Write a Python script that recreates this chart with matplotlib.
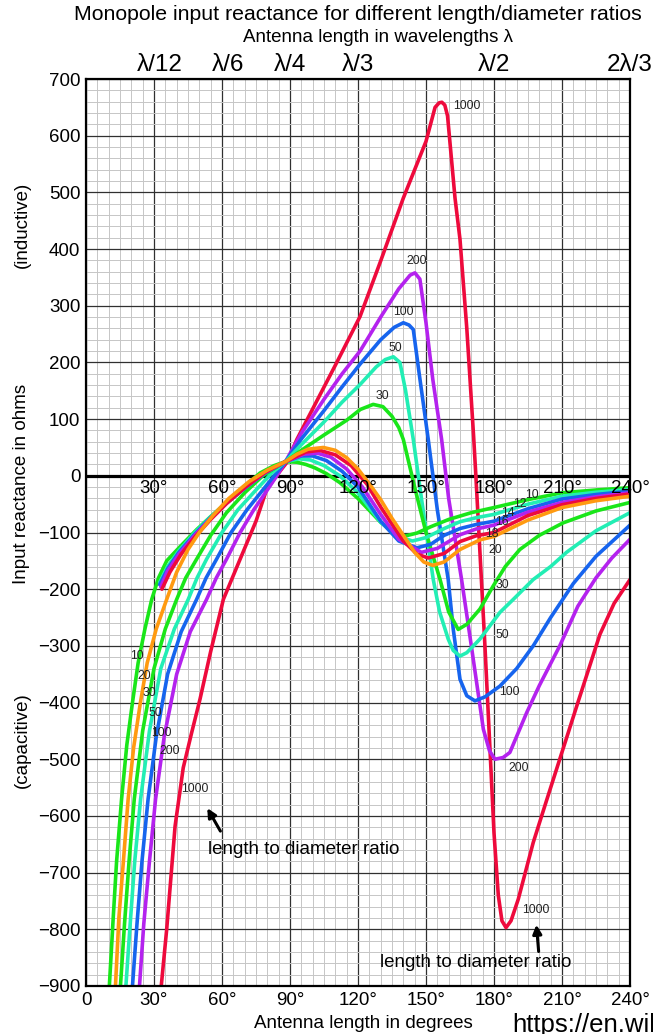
import matplotlib
matplotlib.use("Agg")
import matplotlib.pyplot as plt
from matplotlib.ticker import MultipleLocator

plt.rcParams['font.family'] = ['Liberation Sans', 'DejaVu Sans']

# antenna length in degrees / input reactance in ohms, one pair per l/d ratio
ld10_x = [10.3, 12, 13.5, 15.7, 18, 20.5, 23, 26, 29, 32, 35.6, 41.5, 48.8, 55, 60.6, 68, 76.8, 83, 88, 93, 97, 101,
          106, 112, 120, 130, 136, 141, 146, 152, 160, 170, 180, 195, 210, 225, 240]
ld10_y = [-900, -780, -680, -570, -475, -400, -330, -270, -218, -180, -150, -125, -95, -72, -52, -25, 5, 18, 25, 24,
          20, 14, 4, -12, -40, -82, -100, -106, -101, -90, -77, -65, -56, -42, -30, -25, -21]

ld12_x = [32.5, 36, 41, 48, 55, 62, 70, 79, 88, 94, 99, 105, 112, 120, 130, 137, 144, 150, 158, 165, 172, 180, 195,
          210, 225, 240]
ld12_y = [-188, -160, -132, -100, -72, -48, -22, 5, 25, 30, 28, 18, 0, -30, -82, -106, -115, -109, -93, -81, -74,
          -68, -50, -36, -29, -24]

ld14_x = [32.5, 36, 41, 48, 55, 62, 70, 79, 88, 95, 100, 106, 113, 120, 130, 138, 146, 152, 158, 165, 172, 180, 195,
          210, 225, 240]
ld14_y = [-192, -164, -135, -103, -74, -48, -22, 5, 25, 35, 35, 27, 8, -20, -80, -115, -127, -121, -105, -93, -86,
          -80, -58, -41, -33, -27]

ld16_x = [33, 36, 41, 48, 55, 62, 70, 79, 88, 96, 102, 108, 115, 122, 130, 138, 148, 155, 165, 172, 180, 195, 210,
          225, 240]
ld16_y = [-196, -168, -138, -105, -75, -48, -21, 6, 25, 38, 40, 33, 12, -20, -68, -112, -135, -128, -104, -94, -87,
          -64, -47, -37, -30]

ld18_x = [33.5, 37, 42, 48, 55, 62, 70, 79, 88, 97, 103, 110, 117, 124, 130, 140, 146, 151, 158, 165, 172, 180, 195,
          210, 225, 240]
ld18_y = [-200, -170, -138, -108, -77, -49, -21, 6, 25, 42, 45, 37, 18, -15, -55, -115, -138, -145, -137, -116,
          -106, -100, -70, -51, -40, -32]

ld20_x = [13, 14.5, 16.5, 18.6, 21, 24, 27, 31, 35.6, 40, 45, 50, 56, 63, 72, 80, 88, 93, 98, 104.7, 110, 115, 120,
          125, 130, 135, 140, 145, 149, 153, 158, 165, 173.8, 180, 195, 210, 225, 240]
ld20_y = [-900, -780, -680, -570, -480, -400, -330, -270, -218, -170, -130, -100, -70, -40, -10, 10, 25, 38, 47, 50,
          45, 32, 12, -14, -42, -75, -105, -135, -152, -158, -152, -130, -113, -107, -78, -56, -44, -36]

ld30_x = [15.2, 17, 19, 21.3, 25, 30, 35, 40, 44, 48.8, 55, 62, 70, 78, 88, 95, 105, 115, 121, 126.7, 131, 135, 138,
          140, 145, 150, 156.2, 160, 164.2, 168, 173.8, 179.7, 185, 191.4, 200, 210.5, 225, 240]
ld30_y = [-900, -790, -680, -570, -450, -340, -270, -218, -180, -147, -105, -65, -30, 0, 25, 45, 72, 98, 117, 126,
          122, 105, 85, 64, -20, -100, -183, -240, -271, -262, -235, -194, -160, -130, -105, -83, -62, -47]

ld50_x = [17.6, 19.5, 21.5, 24.1, 28, 33, 39, 45.1, 49, 53.2, 60, 67, 75, 82, 88, 95, 105, 113, 120.9, 128, 132,
          135.6, 138.5, 141, 144.4, 148, 153.2, 156, 159.8, 162, 165, 168, 173.8, 182.6, 188.5, 197.3, 205, 212, 225,
          240]
ld50_y = [-900, -790, -680, -570, -450, -340, -270, -218, -180, -147, -100, -60, -25, 5, 25, 55, 95, 130, 161, 192,
          205, 210, 200, 150, 64, -40, -183, -240, -288, -308, -318, -312, -288, -241, -218, -183, -160, -135, -97,
          -65]

ld100_x = [20.5, 22.5, 24.7, 27.4, 31, 36, 42, 48.8, 53, 57.6, 64, 71, 78, 84, 88, 95, 105, 113, 120.9, 130, 136,
           140, 142.5, 144.4, 147, 151, 155, 159.8, 162, 165, 168, 171.6, 176, 182.6, 190, 197.3, 205, 215, 225, 240]
ld100_y = [-900, -790, -680, -570, -460, -350, -275, -218, -180, -147, -100, -60, -25, 5, 25, 65, 115, 157, 197, 240,
           262, 270, 266, 258, 180, 64, -60, -183, -270, -359, -388, -397, -390, -371, -340, -300, -250, -190, -142,
           -87]

ld200_x = [23.6, 25.5, 28, 30.7, 34.5, 40, 46, 53.2, 57.5, 62, 68, 74, 80, 85, 88, 95, 105, 113, 120.9, 130, 138,
           143, 145.1, 147.3, 150, 153, 156.9, 160, 165.7, 170, 175.3, 178, 180.4, 184, 187, 194.4, 200, 209, 217,
           225, 232, 240]
ld200_y = [-900, -790, -680, -570, -460, -350, -275, -218, -180, -147, -100, -60, -25, 5, 25, 75, 135, 180, 220, 280,
           330, 354, 358, 347, 270, 170, 64, -40, -183, -300, -447, -485, -500, -497, -488, -418, -370, -300, -230,
           -180, -145, -112]

ld1000_x = [33.2, 35.6, 39.3, 42.9, 46.5, 50.3, 55, 60.6, 68, 75, 79.7, 84, 88.5, 93, 100, 110, 120.9, 130, 140, 150,
            154, 155.8, 157, 158.3, 159.5, 162.8, 165, 168, 171, 172, 174, 176, 178.2, 180, 181.9, 183.5, 185.3,
            187.5, 190.7, 197.3, 203, 209, 217, 226.7, 233, 240]
ld1000_y = [-900, -800, -618, -515, -455, -394, -310, -218, -147, -80, -24, 0, 23, 64, 118, 195, 281, 379, 490, 590,
            650, 658, 659, 654, 635, 490, 417, 260, 70, 0, -150, -300, -480, -630, -740, -785, -797, -785, -747, -647,
            -575, -500, -400, -280, -225, -183]

degree_ticks = [0, 30, 60, 90, 120, 150, 180, 210, 240]
degree_labels = ['0', '30°', '60°', '90°', '120°', '150°', '180°', '210°', '240°']
wave_ticks = [30, 60, 90, 120, 180, 240]
wave_labels = ['λ/12', 'λ/6', 'λ/4', 'λ/3', 'λ/2', '2λ/3']

GREEN = '#19e619'
AQUA = '#22eeb4'
BLUE = '#1664ee'
PURPLE = '#b422ee'
RED = '#ee0a3c'
ORANGE = '#ff9a10'

curves = [
    (ld1000_x, ld1000_y, RED),
    (ld200_x, ld200_y, PURPLE),
    (ld100_x, ld100_y, BLUE),
    (ld50_x, ld50_y, AQUA),
    (ld30_x, ld30_y, GREEN),
    (ld10_x, ld10_y, GREEN),
    (ld12_x, ld12_y, AQUA),
    (ld14_x, ld14_y, BLUE),
    (ld16_x, ld16_y, PURPLE),
    (ld18_x, ld18_y, RED),
    (ld20_x, ld20_y, ORANGE),
]

# curve labels: (text, x, y)
curve_labels = [
    ('10', 22.4, -318), ('20', 25.7, -353), ('30', 27.8, -384), ('50', 30.4, -419),
    ('100', 33.4, -453), ('200', 37.0, -485), ('1000', 48.1, -552),
    ('10', 196.6, -33), ('12', 191.4, -49), ('14', 186.3, -65), ('16', 183.4, -81),
    ('18', 178.9, -102), ('20', 180.4, -130), ('30', 183.8, -193), ('50', 183.8, -281),
    ('100', 186.7, -382), ('200', 191.0, -515), ('1000', 198.5, -766),
    ('1000', 168.2, 652), ('200', 145.9, 379), ('100', 140.0, 289), ('50', 136.3, 226),
    ('30', 130.9, 140),
]

fig = plt.figure(figsize=(6.53, 10.34), dpi=100)
ax = fig.add_axes([86 / 653, 1 - 986 / 1034, 544 / 653, 907 / 1034])

for xs, ys, c in curves:
    ax.plot(xs, ys, color=c, lw=2.6, solid_capstyle='round', solid_joinstyle='round', zorder=3)

ax.set_xlim(0, 240)
ax.set_ylim(-900, 700)
ax.set_xticks(degree_ticks)
ax.set_xticklabels(degree_labels, fontsize=13.5)
ax.set_yticks(range(-900, 701, 100))
ax.tick_params(axis='y', labelsize=13.5)
ax.xaxis.set_minor_locator(MultipleLocator(5))
ax.yaxis.set_minor_locator(MultipleLocator(20))
ax.tick_params(which='both', length=0, pad=4)
ax.grid(which='minor', color='#c6c6c6', lw=0.7, zorder=0)
ax.grid(which='major', color='#303030', lw=0.9, zorder=1)
ax.axhline(0, color='black', lw=2.3, zorder=2)
for s in ax.spines.values():
    s.set_linewidth(1.6)
    s.set_zorder(4)

# degree labels along the zero line
for t, lab in zip(degree_ticks[1:], degree_labels[1:]):
    ax.text(t, -23, lab, fontsize=13.5, ha='center', va='center', zorder=5)

for lab, x, y in curve_labels:
    ax.text(x, y, lab, fontsize=8.8, ha='center', va='center', color='#222222', zorder=5)

ax.annotate('', xy=(52.9, -582), xytext=(59.9, -631),
            arrowprops=dict(arrowstyle='-|>', lw=2.2, color='black', mutation_scale=13), zorder=5)
ax.text(96, -659, 'length to diameter ratio', fontsize=13.5, ha='center', va='center', zorder=5)
ax.annotate('', xy=(198.6, -787), xytext=(199.8, -844),
            arrowprops=dict(arrowstyle='-|>', lw=2.2, color='black', mutation_scale=13), zorder=5)
ax.text(172, -858, 'length to diameter ratio', fontsize=13.5, ha='center', va='center', zorder=5)

# top axis in wavelengths
ax2 = ax.twiny()
ax2.set_xlim(0, 240)
ax2.set_xticks([t + 2.5 if t < 90 else t for t in wave_ticks])
ax2.set_xticklabels(wave_labels, fontsize=17.5)
ax2.tick_params(length=0, pad=2)
for s in ax2.spines.values():
    s.set_visible(False)

fig.text(0.548, 1 - 15 / 1034, 'Monopole input reactance for different length/diameter ratios',
         fontsize=15.3, ha='center', va='center')
fig.text(0.579, 1 - 37 / 1034, 'Antenna length in wavelengths λ', fontsize=13.5, ha='center', va='center')
fig.text(363 / 653, 1 - 1023 / 1034, 'Antenna length in degrees', fontsize=13.5, ha='center', va='center')
fig.text(512 / 653, 1 - 1025 / 1034, 'https://en.wikipedia.org', fontsize=18.5, ha='left', va='center')
fig.text(22 / 653, 1 - 484 / 1034, 'Input reactance in ohms', fontsize=13.5, rotation=90, ha='center', va='center')
fig.text(22 / 653, 1 - 225 / 1034, '(inductive)', fontsize=13.5, rotation=90, ha='center', va='center')
fig.text(22 / 653, 1 - 740 / 1034, '(capacitive)', fontsize=13.5, rotation=90, ha='center', va='center')

fig.savefig('out.png', dpi=100)
